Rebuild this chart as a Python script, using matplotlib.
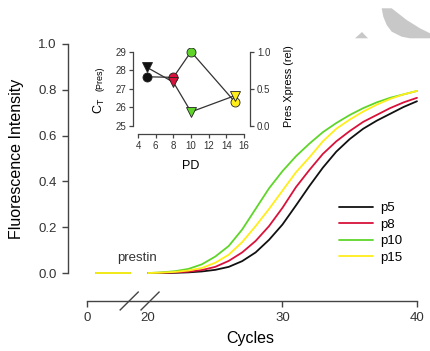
import matplotlib
matplotlib.use("Agg")
import matplotlib.pyplot as plt
from matplotlib.patches import Polygon

plt.rcParams['font.family'] = ['Liberation Sans', 'DejaVu Sans']
plt.rcParams['mathtext.fontset'] = 'custom'
plt.rcParams['mathtext.rm'] = 'Liberation Sans'
plt.rcParams['mathtext.it'] = 'Liberation Sans'

# qPCR amplification curves
series = ["p5", "p8", "p10", "p15"]
colors = ["#111111", "#d8123a", "#5fd52a", "#ffee1a"]

cycles = list(range(20, 41))
fl_p5 = [0.0, 0.0, 0.001, 0.003, 0.007, 0.014, 0.027, 0.052, 0.09, 0.145, 0.212,
         0.295, 0.38, 0.46, 0.53, 0.585, 0.63, 0.665, 0.695, 0.725, 0.75]
fl_p8 = [0.0, 0.001, 0.003, 0.006, 0.013, 0.027, 0.053, 0.09, 0.14, 0.205, 0.285,
         0.375, 0.45, 0.52, 0.575, 0.62, 0.66, 0.69, 0.72, 0.745, 0.765]
fl_p10 = [0.0, 0.003, 0.008, 0.018, 0.038, 0.072, 0.118, 0.19, 0.28, 0.37, 0.445,
          0.51, 0.565, 0.615, 0.655, 0.69, 0.72, 0.745, 0.765, 0.78, 0.795]
fl_p15 = [0.0, 0.002, 0.005, 0.011, 0.022, 0.045, 0.08, 0.135, 0.205, 0.28, 0.36,
          0.44, 0.505, 0.575, 0.63, 0.67, 0.705, 0.735, 0.76, 0.78, 0.795]
fluor = [fl_p5, fl_p8, fl_p10, fl_p15]

# early cycles before the axis break
pre_cycles = [3, 14]
pre_fluor = [0.0, 0.0]

# inset: Ct and relative expression vs population doubling
pd_vals = [5, 8, 10, 15]
ct_vals = [27.65, 27.62, 29.0, 26.28]
xpress_vals = [0.79, 0.59, 0.19, 0.41]

BREAK = 20
SQUEEZE = 0.228


def pos(c):
    # broken x axis: cycles below 20 are compressed
    return c if c >= BREAK else BREAK - (BREAK - c) * SQUEEZE


fig = plt.figure(figsize=(4.3, 3.51), dpi=100)
ax = fig.add_axes([68 / 430, 50 / 351, 355.7 / 430, 257 / 351])

for name, col, vals in zip(series, colors, fluor):
    ax.plot(cycles, vals, color=col, lw=1.3, label=name, solid_capstyle='round')
for col in colors:
    ax.plot([pos(c) for c in pre_cycles], pre_fluor, color=col, lw=1.3)

ax.set_xlim(14.05, 40.5)
ax.set_ylim(-0.122, 1.0)
for s in ["top", "right"]:
    ax.spines[s].set_visible(False)
ax.spines["left"].set_bounds(0, 1)
ax.spines["bottom"].set_bounds(pos(0), 40)
for s in ["left", "bottom"]:
    ax.spines[s].set_color("#444444")
    ax.spines[s].set_linewidth(1.0)

ax.set_yticks([0, 0.2, 0.4, 0.6, 0.8, 1.0])
ax.set_yticklabels(["0.0", "0.2", "0.4", "0.6", "0.8", "1.0"])
ax.set_xticks([pos(0), 20, 30, 40])
ax.set_xticklabels(["0", "20", "30", "40"])
ax.tick_params(labelsize=9.5, length=4, width=1.0, color="#444444",
               labelcolor="#333333", pad=4)
ax.xaxis.get_major_ticks()[1].tick1line.set_visible(False)

# break marks
for xc in [18.6, 20.15]:
    ax.plot([xc - 0.67, xc + 0.67], [-0.122 - 0.039, -0.122 + 0.039],
            color="#444444", lw=1.0, clip_on=False)

ax.set_ylabel("Fluorescence Intensity", fontsize=11.5)
ax.yaxis.set_label_coords(-0.124, 0.554)
ax.set_xlabel("Cycles", fontsize=11.5)
ax.xaxis.set_label_coords(0.512, -0.118)

ax.text(19.22, 0.065, "prestin", fontsize=9.5, ha="center", va="center",
        color="#333333")

ax.legend(loc="upper left", bbox_to_anchor=(0.762, 0.385), frameon=False,
          fontsize=9.5, handlelength=2.6, handletextpad=0.5, labelspacing=0.33,
          borderaxespad=0, borderpad=0)

# inset
ax_in = fig.add_axes([133 / 430, (351 - 134) / 351, 117 / 430, 86 / 351])
ax_in.patch.set_visible(False)
ax_r = ax_in.twinx()
ax_in.set_xlim(3.43, 16.68)
ax_in.set_ylim(24.57, 29.2)
ax_r.set_ylim((24.57 - 25) / 4, (29.2 - 25) / 4)

ax_in.plot(pd_vals, ct_vals, color="#333333", lw=0.9, zorder=1)
ax_r.plot(pd_vals, xpress_vals, color="#333333", lw=0.9, zorder=1)
for x, c, v, col in zip(pd_vals, ct_vals, xpress_vals, colors):
    ax_r.plot(x, v, marker="v", ms=6.5, color=col, mec="#222222", mew=0.6,
              zorder=3)
    ax_in.plot(x, c, marker="o", ms=6.5, color=col, mec="#222222", mew=0.6,
               zorder=3)

for s in ["top", "right"]:
    ax_in.spines[s].set_visible(False)
for s in ["top", "left", "bottom"]:
    ax_r.spines[s].set_visible(False)
ax_in.spines["left"].set_bounds(25, 29)
ax_in.spines["bottom"].set_bounds(4, 16)
ax_r.spines["right"].set_bounds(0, 1)
for a, s in [(ax_in, "left"), (ax_in, "bottom"), (ax_r, "right")]:
    a.spines[s].set_color("#444444")
    a.spines[s].set_linewidth(0.9)

ax_in.set_xticks(range(4, 17, 2))
ax_in.set_yticks(range(25, 30))
ax_r.set_yticks([0, 0.5, 1.0])
ax_r.set_yticklabels(["0.0", "0.5", "1.0"])
for a in (ax_in, ax_r):
    a.tick_params(labelsize=7, length=3, width=0.9, color="#444444",
                  labelcolor="#333333", pad=2)

ax_in.set_xlabel("PD", fontsize=9)
ax_in.xaxis.set_label_coords(0.496, -0.30)
ax_in.text(-0.29, 0.33, r"C$_\mathrm{T}$", transform=ax_in.transAxes,
           rotation=90, fontsize=9, ha="center", va="center")
ax_in.text(-0.285, 0.64, "(Pres)", transform=ax_in.transAxes,
           rotation=90, fontsize=6.5, ha="center", va="center")
ax_r.text(1.333, 0.558, "Pres Xpress (rel)", transform=ax_r.transAxes,
          rotation=90, fontsize=7.8, ha="center", va="center")

# grey scan artefact top right
W, H = 430, 351
blob = [(381.7, 8.3), (383.3, 16.7), (386.7, 25), (391.7, 31.7), (401.7, 36.7),
        (410, 38.3), (430, 38.3), (430, 33.3), (420, 28.3), (406.7, 20),
        (391.7, 8.3)]
tri = [(355, 38.3), (362, 32), (368, 38.3)]
for shape in (blob, tri):
    fig.patches.append(Polygon([(x / W, 1 - y / H) for x, y in shape],
                               closed=True, transform=fig.transFigure,
                               facecolor="#c8c8c8", edgecolor="none"))

fig.savefig("out.png", dpi=100)
